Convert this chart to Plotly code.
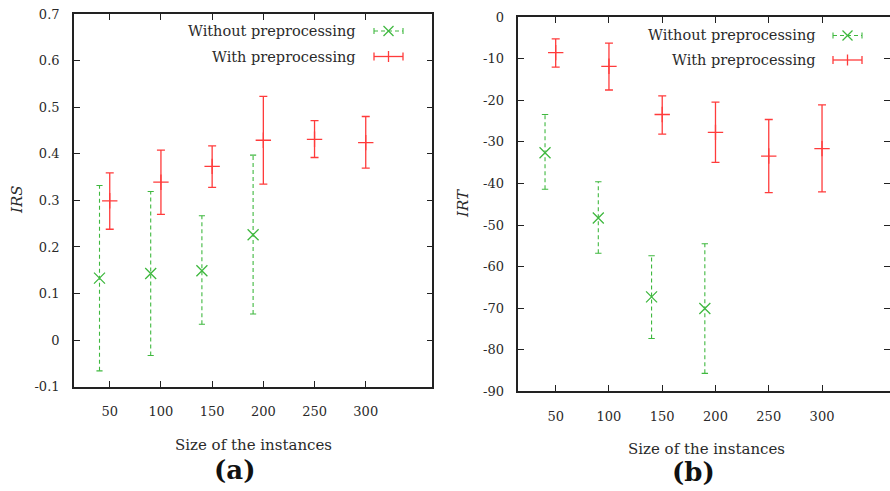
import plotly.graph_objects as go
from plotly.subplots import make_subplots

# Instance sizes (the "without" runs are drawn slightly left of each size)
sizes_without = [40, 90, 140, 190]
sizes_with = [50, 100, 150, 200, 250, 300]
x_tick_vals = [50, 100, 150, 200, 250, 300]
x_tick_text = ["50", "100", "150", "200", "250", "300"]

# IRS (panel a)
irs_without_mean = [0.133, 0.143, 0.149, 0.226]
irs_without_low = [-0.066, -0.033, 0.034, 0.056]
irs_without_high = [0.332, 0.319, 0.267, 0.397]
irs_with_mean = [0.299, 0.339, 0.373, 0.429, 0.431, 0.424]
irs_with_low = [0.238, 0.270, 0.328, 0.335, 0.392, 0.369]
irs_with_high = [0.359, 0.408, 0.417, 0.523, 0.471, 0.480]
irs_tick_vals = [-0.1, 0, 0.1, 0.2, 0.3, 0.4, 0.5, 0.6, 0.7]
irs_tick_text = ["-0.1", "0", "0.1", "0.2", "0.3", "0.4", "0.5", "0.6", "0.7"]

# IRT (panel b)
irt_without_mean = [-32.6, -48.3, -67.3, -70.1]
irt_without_low = [-41.4, -56.8, -77.3, -85.7]
irt_without_high = [-23.4, -39.6, -57.4, -54.5]
irt_with_mean = [-8.5, -11.8, -23.4, -27.7, -33.4, -31.6]
irt_with_low = [-12.0, -17.5, -28.1, -34.9, -42.2, -42.0]
irt_with_high = [-5.2, -6.2, -18.9, -20.4, -24.6, -21.1]
irt_tick_vals = [-90, -80, -70, -60, -50, -40, -30, -20, -10, 0]
irt_tick_text = ["-90", "-80", "-70", "-60", "-50", "-40", "-30", "-20", "-10", "0"]

W, H = 890, 491
GREEN = "#3fb83f"
RED = "#ff3b3b"
AXIS = "#222222"
FONT = "DejaVu Serif"
TXT = "#2a2a2a"


def px(v):
    return v / W


def py(v):
    return 1 - v / H


fig = make_subplots(rows=1, cols=2)


def add_panel(col, xs_wo, m_wo, lo_wo, hi_wo, xs_w, m_w, lo_w, hi_w):
    # dashed vertical error bars for the run without preprocessing
    bx, by, cx, cy = [], [], [], []
    for x, lo, hi in zip(xs_wo, lo_wo, hi_wo):
        bx += [x, x, None]
        by += [lo, hi, None]
        for v in (lo, hi):
            cx += [x - 3, x + 3, None]
            cy += [v, v, None]
    fig.add_trace(go.Scatter(x=bx, y=by, mode="lines", showlegend=False,
                             line=dict(color=GREEN, width=1.1, dash="4px,3px"),
                             hoverinfo="skip"), row=1, col=col)
    fig.add_trace(go.Scatter(x=cx, y=cy, mode="lines", showlegend=False,
                             line=dict(color=GREEN, width=1.1),
                             hoverinfo="skip"), row=1, col=col)
    fig.add_trace(go.Scatter(x=xs_wo, y=m_wo, mode="markers", showlegend=False,
                             name="Without preprocessing",
                             marker=dict(symbol="x-thin", size=11,
                                         line=dict(color=GREEN, width=1.3))),
                  row=1, col=col)
    # solid error bars for the run with preprocessing
    fig.add_trace(go.Scatter(
        x=xs_w, y=m_w, mode="markers", showlegend=False,
        name="With preprocessing",
        marker=dict(symbol="cross-thin", size=11, line=dict(color=RED, width=1.3)),
        error_y=dict(type="data", symmetric=False,
                     array=[h - m for h, m in zip(hi_w, m_w)],
                     arrayminus=[m - l for m, l in zip(m_w, lo_w)],
                     color=RED, thickness=1.3, width=4)),
        row=1, col=col)


add_panel(1, sizes_without, irs_without_mean, irs_without_low, irs_without_high,
          sizes_with, irs_with_mean, irs_with_low, irs_with_high)
add_panel(2, sizes_without, irt_without_mean, irt_without_low, irt_without_high,
          sizes_with, irt_with_mean, irt_with_low, irt_with_high)

axis_common = dict(showline=True, linecolor=AXIS, linewidth=1.5, mirror="ticks",
                   ticks="inside", ticklen=6, tickcolor=AXIS, tickwidth=1.2,
                   showgrid=False, zeroline=False, automargin=False,
                   tickfont=dict(family=FONT, size=13, color=TXT))

fig.update_xaxes(axis_common)
fig.update_yaxes(axis_common)

fig.update_layout(
    xaxis=dict(domain=[px(73.9), px(432.3)], range=[15, 365],
               tickmode="array", tickvals=x_tick_vals, ticktext=x_tick_text,
               ticklabelstandoff=12),
    xaxis2=dict(domain=[px(518.4), 1.0], range=[15, 363.8],
                tickmode="array", tickvals=x_tick_vals, ticktext=x_tick_text,
                ticklabelstandoff=12),
    yaxis=dict(domain=[py(386.7), py(14)], range=[-0.1, 0.7],
               tickmode="array", tickvals=irs_tick_vals, ticktext=irs_tick_text,
               ticklabelstandoff=10),
    yaxis2=dict(domain=[py(391.2), py(17.3)], range=[-90, 0],
                tickmode="array", tickvals=irt_tick_vals, ticktext=irt_tick_text,
                ticklabelstandoff=10),
    width=W, height=H, margin=dict(l=0, r=0, t=0, b=0, autoexpand=False),
    paper_bgcolor="white", plot_bgcolor="white",
)

annotations = []
shapes = []


def text(x, y, s, size=13, anchor="center", angle=0, bold=False):
    annotations.append(dict(
        x=px(x), y=py(y), xref="paper", yref="paper", text=s, showarrow=False,
        xanchor=anchor, yanchor="middle", textangle=angle,
        font=dict(family=FONT, size=size,
                  color=TXT if not bold else "#111111")))


def seg(x0, y0, x1, y1, color, width=1.2, dash="solid"):
    shapes.append(dict(type="line", xref="paper", yref="paper",
                       x0=px(x0), y0=py(y0), x1=px(x1), y1=py(y1),
                       line=dict(color=color, width=width, dash=dash)))


def legend(text_right, row1, row2, s0, s1):
    text(text_right, row1, "Without preprocessing", size=14.5, anchor="right")
    text(text_right, row2, "With preprocessing", size=14.5, anchor="right")
    c = (s0 + s1) / 2
    # green sample: dashed line, end caps, x marker
    seg(s0, row1, s1, row1, GREEN, 1.1, "4px,3px")
    for e in (s0, s1):
        seg(e, row1 - 3, e, row1 + 3, GREEN, 1.1)
    seg(c - 5, row1 - 5, c + 5, row1 + 5, GREEN, 1.3)
    seg(c - 5, row1 + 5, c + 5, row1 - 5, GREEN, 1.3)
    # red sample: solid line, end caps, + marker
    seg(s0, row2, s1, row2, RED, 1.3)
    for e in (s0, s1):
        seg(e, row2 - 4, e, row2 + 4, RED, 1.3)
    seg(c, row2 - 5.5, c, row2 + 5.5, RED, 1.3)


legend(358, 31, 56.5, 374, 403)
legend(818, 35.5, 60, 833, 862)

# axis titles
text(253, 445, "Size of the instances", size=15)
text(706, 449, "Size of the instances", size=15)
text(17, 200, "<i>IRS</i>", size=15, angle=-90)
text(463, 203, "<i>IRT</i>", size=15, angle=-90)

# panel labels
text(234, 470, "<b>(a)</b>", size=26, bold=True)
text(693, 472, "<b>(b)</b>", size=26, bold=True)

fig.update_layout(annotations=annotations, shapes=shapes)

fig.write_html("out.html")
